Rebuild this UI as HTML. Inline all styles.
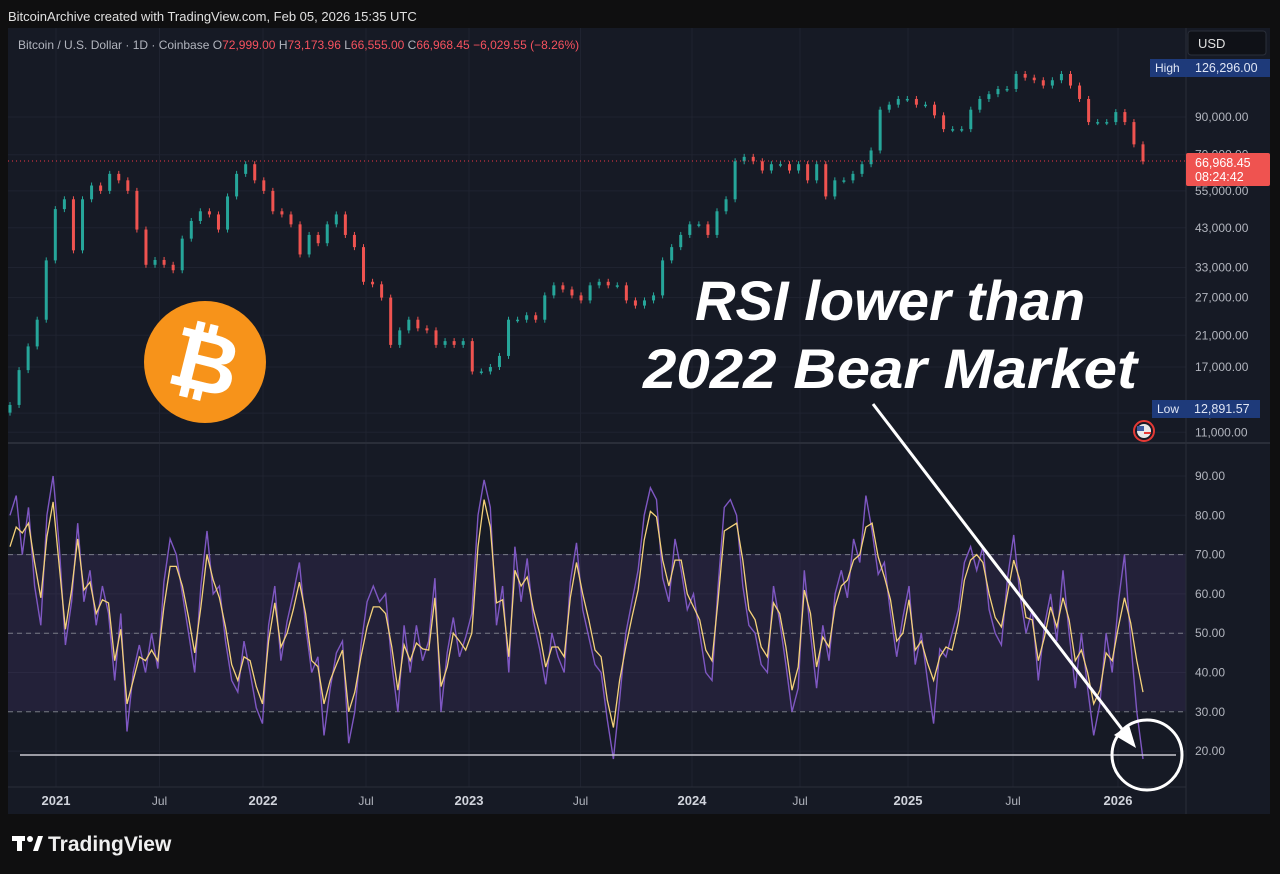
<!DOCTYPE html>
<html><head><meta charset="utf-8"><style>
html,body{margin:0;padding:0;background:#0f0f10;width:1280px;height:874px;overflow:hidden;font-family:"Liberation Sans",sans-serif}
svg{display:block}
</style></head><body>
<svg id="c" width="1280" height="874" xmlns="http://www.w3.org/2000/svg">
<rect x="0" y="0" width="1280" height="874" fill="#0f0f10"/>
<rect x="8" y="28" width="1262" height="786" fill="#161a25"/>
<text x="8" y="21" fill="#e0e0e0" font-size="13">BitcoinArchive created with TradingView.com, Feb 05, 2026 15:35 UTC</text>
<g id="grid"></g>
<rect x="8" y="554" width="1178" height="157" fill="#7e57c2" fill-opacity="0.13"/>
<line x1="8" y1="443" x2="1270" y2="443" stroke="#2a2e39" stroke-width="2"/>
<line x1="1186" y1="28" x2="1186" y2="814" stroke="#2a2e39" stroke-width="1"/>
<line x1="8" y1="787" x2="1186" y2="787" stroke="#2a2e39" stroke-width="1"/>
<g id="rsiLevels"></g>
<g id="candles"></g>
<line x1="8" y1="161" x2="1186" y2="161" stroke="#f23645" stroke-dasharray="1,3" stroke-width="1"/>
<path id="rsiRaw" fill="none" stroke="#7e57c2" stroke-width="1.4"/>
<path id="rsiMa" fill="none" stroke="#f5d27a" stroke-width="1.3"/>
<line x1="20" y1="755" x2="1176" y2="755" stroke="#c8c8d0" stroke-width="1.5"/>
<g id="yAxis" font-size="12" fill="#b2b5be"></g>
<g id="xAxis" font-size="12" fill="#b2b5be"></g>
<text x="18" y="49" font-size="12" fill="#b2b5be">Bitcoin / U.S. Dollar · 1D · Coinbase <tspan fill="#b2b5be">O</tspan><tspan fill="#f7525f">72,999.00</tspan> <tspan fill="#b2b5be">H</tspan><tspan fill="#f7525f">73,173.96</tspan> <tspan fill="#b2b5be">L</tspan><tspan fill="#f7525f">66,555.00</tspan> <tspan fill="#b2b5be">C</tspan><tspan fill="#f7525f">66,968.45</tspan> <tspan fill="#f7525f">−6,029.55 (−8.26%)</tspan></text>
<rect x="1188" y="31" width="78" height="24" rx="3" fill="#0f1117" stroke="#2a2e39"/>
<text x="1198" y="48" font-size="13" fill="#e0e0e0">USD</text>
<rect x="1150" y="59" width="120" height="18" fill="#1e3a7a"/>
<text x="1155" y="72" font-size="12" fill="#e0e6f5">High</text>
<text x="1195" y="72" font-size="12.5" fill="#e0e6f5">126,296.00</text>
<rect x="1186" y="153" width="84" height="33" rx="2" fill="#ef5350"/>
<text x="1195" y="167" font-size="12.5" fill="#fff">66,968.45</text>
<text x="1195" y="181" font-size="12.5" fill="#fff">08:24:42</text>
<rect x="1152" y="400" width="108" height="18" fill="#1e3a7a"/>
<text x="1157" y="413" font-size="12" fill="#e0e6f5">Low</text>
<text x="1194" y="413" font-size="12.5" fill="#e0e6f5">12,891.57</text>
<g><circle cx="1144" cy="431" r="10" fill="none" stroke="#e53935" stroke-width="2"/><circle cx="1144" cy="431" r="7" fill="#e8e8e8"/><rect x="1137" y="426" width="7" height="5" fill="#3d5a9e"/><line x1="1144" y1="433" x2="1151" y2="433" stroke="#e53935" stroke-width="2"/></g>
<g><circle cx="205" cy="362" r="61" fill="#f7931a"/><text x="205" y="391" font-size="84" font-weight="bold" fill="#fff" text-anchor="middle" transform="rotate(14 205 362)">₿</text></g>
<g font-family="Liberation Sans, sans-serif" font-weight="bold" font-style="italic" font-size="56" fill="#fff">
<text x="695" y="320" textLength="390" lengthAdjust="spacingAndGlyphs">RSI lower than</text>
<text x="643" y="388" textLength="494" lengthAdjust="spacingAndGlyphs">2022 Bear Market</text>
</g>
<line x1="873" y1="404" x2="1125" y2="733" stroke="#fff" stroke-width="3"/>
<polygon points="1136,748 1114,735 1129,725" fill="#fff"/>
<circle cx="1147" cy="755" r="35" fill="none" stroke="#fff" stroke-width="3"/>
<g><rect x="12" y="836" width="13" height="5" fill="#fff"/><rect x="17" y="836" width="5" height="15" fill="#fff"/><circle cx="30" cy="839" r="3" fill="#fff"/><polygon points="33,851 38,836 43,836 38,851" fill="#fff"/></g>
<text x="48" y="851" font-size="21" font-weight="bold" fill="#f0f0f0">TradingView</text>
</svg>
<script>
const priceCloses=[13200,16650,19500,23300,34600,48700,52000,37000,52000,57000,55000,61600,59000,55000,42500,33600,34700,33600,32400,40000,45000,48000,47000,42500,53000,61600,65700,59000,55000,48000,47000,44000,36000,41000,38800,44000,47000,41000,37800,30000,29500,27000,19700,21700,23300,22000,21700,19700,20200,19700,20200,16500,16500,17000,18300,23300,23300,24000,23300,27400,29300,28500,27400,26500,29300,30000,29300,29300,26500,25600,26500,27400,34600,37800,41000,44000,44000,41000,48000,52000,67000,69000,67000,63000,65700,65700,63000,65700,59000,65700,53000,59000,59000,61600,65700,72000,94500,97700,101500,101500,97700,97700,91000,83000,83000,83000,94500,101500,104800,108500,108500,119900,117000,115000,111000,115000,119900,111000,101500,87000,87000,87000,93000,87000,75000,66968];
const rsiMa=[72,77,75.5,78,68,59,74.5,83.4,67,51,61,74,61,63,55,58.5,57.7,43,51,32,38,44,43,45.7,43,56.7,67,67,62,54,45,56.7,70,63.5,59,51.6,42,38,44,43,36.4,32,48,57.7,46.5,50,56,63,55,43,41.5,32,38,42,45.7,30,35,44,51.6,56.7,56.7,55,46.5,35.5,47,43,47.5,46,45.7,59,36.4,41.4,50,48,45.7,50,72,84,77,57.7,58.5,44,66,62,64.3,56,50,41.4,46.5,46.5,44,59,68,60,53.4,45.7,44,33,26,38,46.5,54,61,73.7,81,79.6,68.6,62,68.6,68.6,60,56.7,53.4,45.7,43,58.5,76,77,78,68.6,56,53.4,46.5,44,57.7,55,46.5,35.5,41.4,61,55,41.4,49,46.5,56.7,62,63.5,68.6,70,77,78,69.4,64.3,58.5,48,50,58.5,45.7,48,42.4,38,44,46.5,45.7,52.6,63.5,68.6,70,68,60,54,51.6,60,68.6,63.5,54,53.4,43,49,56.7,51.6,59,53.4,43,45.7,40,32,35.5,45,43,51.6,59,52.6,43,35];
const rsiRaw=[80,85,70,82,62,52,80,90,72,47,58,78,58,66,52,62,55,38,55,25,40,47,40,50,41,63,74,70,60,50,40,62,76,60,62,48,38,35,48,40,31,27,52,62,43,53,60,68,52,40,44,24,36,45,48,22,30,47,58,62,58,60,42,30,52,40,52,43,48,64,30,45,54,44,49,55,80,89,82,52,62,40,72,58,69,53,46,37,50,44,40,63,73,56,49,42,40,28,18,33,50,58,66,80,87,84,64,58,74,66,56,60,50,40,38,62,82,84,80,62,52,50,42,40,62,53,42,30,36,66,50,36,52,43,60,66,59,74,68,85,76,65,68,55,44,54,62,42,50,38,27,46,44,50,56,68,72,66,72,56,50,47,64,75,60,50,56,38,52,60,48,66,50,36,50,36,24,32,50,40,58,70,48,30,18];
const priceTicks=[90000,70000,55000,43000,33000,27000,21000,17000,12500,11000];
const priceTickLabels=["90,000.00","70,000.00","55,000.00","43,000.00","33,000.00","27,000.00","21,000.00","17,000.00","12,500.00","11,000.00"];
const rsiTicks=[90,80,70,60,50,40,30,20];
const rsiTickLabels=["90.00","80.00","70.00","60.00","50.00","40.00","30.00","20.00"];
const timeLabels=["2021","Jul","2022","Jul","2023","Jul","2024","Jul","2025","Jul","2026"];
const timeLabelYears=[2021,2021.5,2022,2022.5,2023,2023.5,2024,2024.5,2025,2025.5,2026];

const NS="http://www.w3.org/2000/svg";
const X0=10,X1=1143;
function xIdx(i,n){return X0+(X1-X0)*i/(n-1);}
function yPrice(p){return 117-150*Math.log(p/90000);}
function yRsi(v){return 476+(90-v)*3.93;}
function xTime(t){const k=[2021,2022,2023,2024,2025,2026],px=[56,263,469,692,908,1118];
  for(let j=0;j<k.length-1;j++){if(t<=k[j+1])return px[j]+(t-k[j])/(k[j+1]-k[j])*(px[j+1]-px[j]);}return 1118;}
function mk(tag,attrs,parent){const e=document.createElementNS(NS,tag);for(const a in attrs)e.setAttribute(a,attrs[a]);parent.appendChild(e);return e;}

const grid=document.getElementById('grid');
priceTicks.forEach(function(p){const l=mk('line',{x1:8,x2:1186,y1:yPrice(p),y2:yPrice(p),stroke:'#1f2330'},grid);

});
rsiTicks.forEach(function(v){const l=mk('line',{x1:8,x2:1186,y1:yRsi(v),y2:yRsi(v),stroke:'#1f2330'},grid);

});
timeLabelYears.forEach(function(t){const l=mk('line',{x1:xTime(t),x2:xTime(t),y1:28,y2:787,stroke:'#1f2330'},grid);

});

const lv=document.getElementById('rsiLevels');
[70,50,30].forEach(function(v){const l=mk('line',{x1:8,x2:1186,y1:yRsi(v),y2:yRsi(v),stroke:'#787b86','stroke-dasharray':'5,4'},lv);

});

const cg=document.getElementById('candles');
for(let i=0;i<priceCloses.length;i++){
  const o=i>0?priceCloses[i-1]:priceCloses[0]*0.95,c=priceCloses[i];
  const x=xIdx(i,priceCloses.length);const up=c>=o;const col=up?'#26a69a':'#ef5350';
  const y1=yPrice(Math.max(o,c)),y2=yPrice(Math.min(o,c));
  const w=mk('line',{x1:x,x2:x,y1:y1-3,y2:y2+3,stroke:col,'stroke-width':1},cg);
  
  
  const b=mk('rect',{x:x-1.5,y:y1,width:3,height:Math.max(1.5,y2-y1),fill:col},cg);
  
  
}
function pathOf(arr){return arr.map(function(v,i){return (i?'L':'M')+xIdx(i,arr.length).toFixed(1)+','+yRsi(v).toFixed(1);}).join('');}
document.getElementById('rsiRaw').setAttribute('d',pathOf(rsiRaw));
document.getElementById('rsiMa').setAttribute('d',pathOf(rsiMa));

const ya=document.getElementById('yAxis');
priceTicks.forEach(function(p,i){const t=mk('text',{x:1195,y:yPrice(p)+4},ya);t.textContent=priceTickLabels[i];

});
rsiTicks.forEach(function(v,i){const t=mk('text',{x:1195,y:yRsi(v)+4},ya);t.textContent=rsiTickLabels[i];

});
const xa=document.getElementById('xAxis');
timeLabels.forEach(function(s,i){const t=mk('text',{x:xTime(timeLabelYears[i]),y:805,'text-anchor':'middle'},xa);
if(s!=='Jul'){t.setAttribute('font-weight','bold');t.setAttribute('font-size','13');t.setAttribute('fill','#d1d4dc');}
t.textContent=s;

});
</script>
</body></html>
